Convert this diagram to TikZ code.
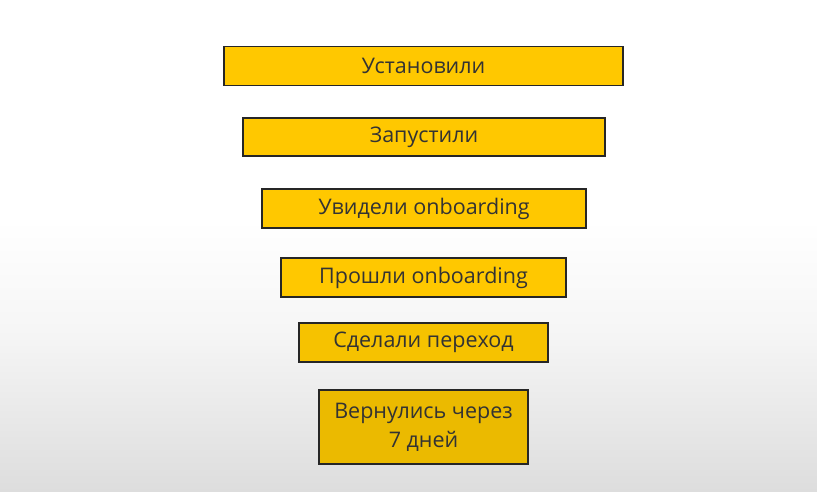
\documentclass[tikz,border=0pt]{standalone}
\usepackage{fontspec}
\setmainfont{Open Sans}
\definecolor{boxA}{HTML}{FFC800}
\definecolor{boxB}{HTML}{F6C200}
\definecolor{boxC}{HTML}{EBBA00}
\definecolor{bgmid}{HTML}{F6F6F6}
\definecolor{bgbot}{HTML}{DDDDDD}
\begin{document}
\begin{tikzpicture}[x=1pt,y=-1pt,
  funnel/.style={draw=black!85,line width=1.4pt,fill=boxA,inner sep=0pt,
    font=\fontsize{21.5}{26}\selectfont,text=black!80,align=center}]
\useasboundingbox (0,0) rectangle (817,492);
\fill[white] (0,0) rectangle (817,220);
\shade[top color=white,bottom color=bgmid] (0,219.5) rectangle (817,330);
\shade[top color=bgmid,bottom color=bgbot] (0,329.5) rectangle (817,492);
\node[funnel,minimum width=399pt,minimum height=39pt] (s1) at (423.5,66) {Установили};
\node[funnel,minimum width=362pt,minimum height=38pt] (s2) at (424,137) {Запустили};
\node[funnel,minimum width=324pt,minimum height=39pt] (s3) at (424,208.5) {Увидели onboarding};
\node[funnel,minimum width=285pt,minimum height=39pt] (s4) at (423.5,277.5) {Прошли onboarding};
\node[funnel,fill=boxB,minimum width=249pt,minimum height=39pt] (s5) at (423.5,342.5) {Сделали переход};
\node[funnel,fill=boxC,minimum width=209pt,minimum height=74pt,font=\fontsize{21.5}{29}\selectfont] (s6) at (423.5,427) {Вернулись через\\7 дней};
\end{tikzpicture}
\end{document}
